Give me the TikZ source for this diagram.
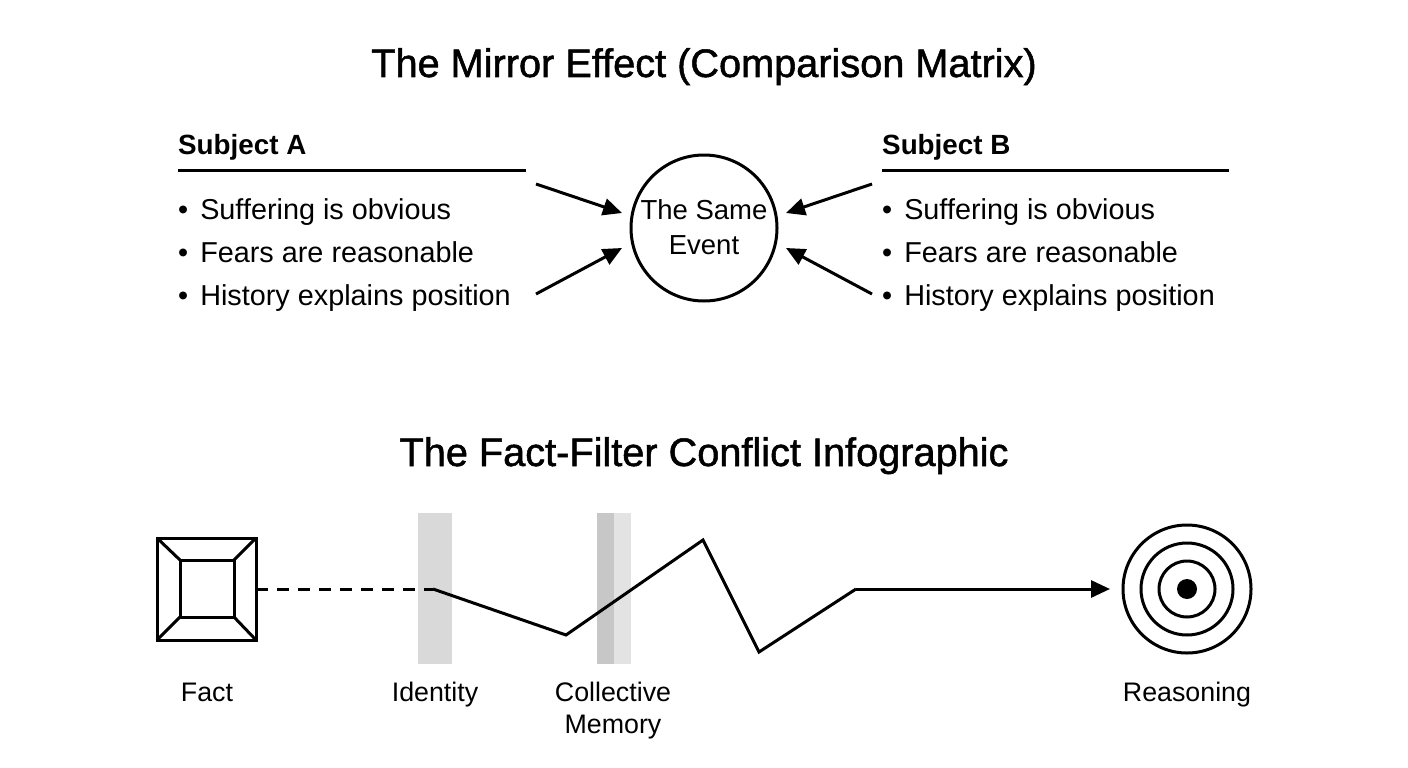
\documentclass[tikz,border=0pt]{standalone}
\usepackage{fontspec}
\setmainfont{Liberation Sans}
\newfontfamily\titlefont[FakeBold=1.3]{Liberation Sans}
\usetikzlibrary{arrows.meta}
\tikzset{
  title/.style={font=\titlefont\fontsize{39.7}{44}\selectfont, inner sep=0pt, anchor=base},
  head/.style={font=\bfseries\fontsize{27.8}{32}\selectfont, anchor=base west, inner sep=0pt},
  item/.style={font=\fontsize{28.8}{30}\selectfont, anchor=base west, inner sep=0pt},
  lab/.style={font=\fontsize{26.8}{33}\selectfont, inner sep=0pt, anchor=base},
  arr/.style={line width=3pt, -{Triangle[length=19pt,width=17pt]}},
  thick line/.style={line width=3pt},
}
\begin{document}
\begin{tikzpicture}[x=1pt,y=-1pt]
\useasboundingbox (0,0) rectangle (1408,768);
\fill[white] (0,0) rectangle (1408,768);
% Titles
\node[title] (t1) at (704,77) {The Mirror Effect (Comparison Matrix)};
\node[title] (t2) at (704,466) {The Fact-Filter Conflict Infographic};
% Subject A
\node[head] (ha) at (178,154) {Subject A};
\draw[thick line] (178,170) -- (526,170);
\node[item] (a1) at (178,219) {\textbullet\hspace{12pt}Suffering is obvious};
\node[item] (a2) at (178,262) {\textbullet\hspace{12pt}Fears are reasonable};
\node[item] (a3) at (178,305) {\textbullet\hspace{12pt}History explains position};
% Subject B
\node[head] (hb) at (882,154) {Subject B};
\draw[thick line] (882,170) -- (1229,170);
\node[item] (b1) at (882,219) {\textbullet\hspace{12pt}Suffering is obvious};
\node[item] (b2) at (882,262) {\textbullet\hspace{12pt}Fears are reasonable};
\node[item] (b3) at (882,305) {\textbullet\hspace{12pt}History explains position};
% Event
\node[circle, draw, line width=3pt, minimum size=146pt, inner sep=0pt] (ev) at (704,228) {};
\node[lab, font=\fontsize{27.5}{33}\selectfont] (ev1) at (704,219.5) {The Same};
\node[lab, font=\fontsize{27.5}{33}\selectfont] (ev2) at (704,254) {Event};
\coordinate (la1) at (536,184); \coordinate (la2) at (622,213);
\coordinate (lb1) at (536,294); \coordinate (lb2) at (622,248);
\coordinate (ra1) at (872,184); \coordinate (ra2) at (786,213);
\coordinate (rb1) at (872,294); \coordinate (rb2) at (786,248);
\draw[arr] (la1) -- (la2);
\draw[arr] (lb1) -- (lb2);
\draw[arr] (ra1) -- (ra2);
\draw[arr] (rb1) -- (rb2);
% Filters
\fill[gray!30] (418,513) rectangle (452,664);
\fill[black!22] (597,513) rectangle (614,664);
\fill[black!11] (614,513) rectangle (631,664);
% Fact square
\draw[thick line] (157,538) rectangle (256,640);
\draw[thick line] (180,560) rectangle (234,617);
\draw[thick line] (157,538) -- (180,560);
\draw[thick line] (256,538) -- (234,560);
\draw[thick line] (157,640) -- (180,617);
\draw[thick line] (256,640) -- (234,617);
\coordinate (fe) at (256,589);
\coordinate (p0) at (433,589);
\coordinate (p1) at (566,635);
\coordinate (p2) at (703,540);
\coordinate (p3) at (759,652);
\coordinate (p4) at (856,589);
\coordinate (p5) at (1110,589);
\draw[thick line, dash pattern=on 12pt off 9pt] (fe) -- (p0);
\draw[thick line, line join=miter] (p0) -- (p1) -- (p2) -- (p3) -- (p4);
\draw[arr] (p4) -- (p5);
% Target
\node[circle, draw, line width=3pt, minimum size=128pt, inner sep=0pt] (tg) at (1187,589) {};
\draw[thick line] (tg.center) circle (46);
\draw[thick line] (tg.center) circle (28);
\fill (tg.center) circle (10);
% Labels
\node[lab] (lf) at (207,701) {Fact};
\node[lab] (li) at (435,701) {Identity};
\node[lab] (lc1) at (613,701) {Collective};
\node[lab] (lc2) at (613,733.5) {Memory};
\node[lab] (lr) at (1187,701) {Reasoning};
\end{tikzpicture}
\end{document}
